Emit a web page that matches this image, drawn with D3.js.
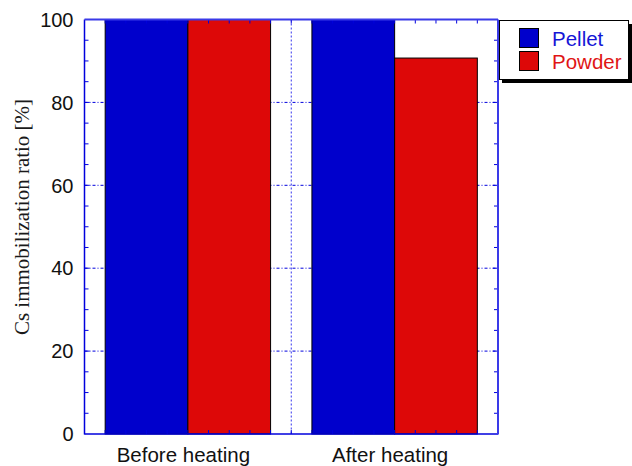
<!DOCTYPE html>
<html><head><meta charset="utf-8">
<script src="https://cdn.jsdelivr.net/npm/d3@7"></script>
<style>body{margin:0;background:#fff}</style>
</head><body>
<svg id="c" width="632" height="466"></svg>
<script>
const categories = ["Before heating", "After heating"];
const series = ["Pellet", "Powder"];
const pellet = [100, 100];
const powder = [100, 90.7];
const yTicks = [0, 20, 40, 60, 80, 100];
const colors = {Pellet: "#0000cc", Powder: "#dd0808"};
const textColors = {Pellet: "#1515d6", Powder: "#e01515"};

const svg = d3.select("#c");
const L = 84.5, R = 498, T = 19.5, B = 434;
const x = d3.scaleLinear().domain([0, 2]).range([L, R]);
const y = d3.scaleLinear().domain([0, 100]).range([B, T]);
const blue = "#0000dd";

// grid
const g = svg.append("g");
g.selectAll(".hg").data(yTicks.filter(d => d > 0 && d < 100)).join("line")
  .attr("x1", L).attr("x2", R).attr("y1", d => y(d)).attr("y2", d => y(d))
  .attr("stroke", blue).attr("stroke-width", 1).attr("stroke-dasharray", "3,2,1,2");
g.append("line").attr("x1", x(1)).attr("x2", x(1)).attr("y1", T).attr("y2", B)
  .attr("stroke", "#3333ee").attr("stroke-width", 1).attr("stroke-dasharray", "2,2");

// bars
const bw = 0.4;
const data = [];
categories.forEach((c, i) => {
  data.push({s: "Pellet", x0: i + 0.1, v: pellet[i]});
  data.push({s: "Powder", x0: i + 0.5, v: powder[i]});
});
svg.selectAll(".bar").data(data).join("rect")
  .attr("x", d => x(d.x0)).attr("width", d => x(d.x0 + bw) - x(d.x0))
  .attr("y", d => y(d.v)).attr("height", d => y(0) - y(d.v))
  .attr("fill", d => colors[d.s]).attr("stroke", "#000").attr("stroke-width", 1);

// minor x ticks
const xt = d3.range(1, 20).map(d => d / 10);
svg.selectAll(".xtb").data(xt).join("line")
  .attr("x1", d => x(d)).attr("x2", d => x(d)).attr("y1", B).attr("y2", B - 4)
  .attr("stroke", blue);
svg.selectAll(".xtt").data(xt).join("line")
  .attr("x1", d => x(d)).attr("x2", d => x(d)).attr("y1", T).attr("y2", T + 4)
  .attr("stroke", blue);

// y ticks
const yMinor = d3.range(5, 100, 5);
svg.selectAll(".ytl").data(yMinor).join("line")
  .attr("x1", L).attr("x2", d => L + (d % 20 === 0 ? 5 : 4)).attr("y1", d => y(d)).attr("y2", d => y(d))
  .attr("stroke", blue);
svg.selectAll(".ytr").data(yMinor).join("line")
  .attr("x1", R).attr("x2", d => R - (d % 20 === 0 ? 5 : 4)).attr("y1", d => y(d)).attr("y2", d => y(d))
  .attr("stroke", blue);

// frame
svg.append("line").attr("x1", L).attr("x2", L).attr("y1", T).attr("y2", B + 0.5).attr("stroke", blue).attr("stroke-width", 1.5);
svg.append("line").attr("x1", L).attr("x2", R).attr("y1", B).attr("y2", B).attr("stroke", blue).attr("stroke-width", 1.5);
svg.append("line").attr("x1", R).attr("x2", R).attr("y1", T).attr("y2", B + 0.5).attr("stroke", "#3a3ae8").attr("stroke-width", 2);
svg.append("line").attr("x1", L).attr("x2", R).attr("y1", T).attr("y2", T).attr("stroke", "#3a3ae8").attr("stroke-width", 2);

// y tick labels
svg.selectAll(".yl").data(yTicks).join("text")
  .attr("x", L - 11).attr("y", d => y(d)).attr("dy", "0.36em")
  .attr("text-anchor", "end").attr("font-family", "Liberation Sans, Arial, sans-serif")
  .attr("font-size", 20).attr("fill", "#111").text(d => d);

// x category labels
svg.selectAll(".xl").data(categories).join("text")
  .attr("x", (d, i) => x(i + 0.5) - 4.5).attr("y", 461.5)
  .attr("text-anchor", "middle").attr("font-family", "Liberation Sans, Arial, sans-serif")
  .attr("font-size", 20.5).attr("fill", "#111").text(d => d);

// y title
svg.append("text").attr("transform", "translate(28.5,217) rotate(-90)")
  .attr("text-anchor", "middle").attr("font-family", "Liberation Serif, Times New Roman, serif")
  .attr("font-size", 21).attr("fill", "#1a1a1a").text("Cs immobilization ratio [%]");

// legend
const lg = svg.append("g");
lg.append("rect").attr("x", 502).attr("y", 24).attr("width", 130).attr("height", 59).attr("fill", "#000");
lg.append("rect").attr("x", 499.5).attr("y", 20.5).attr("width", 129).attr("height", 59).attr("fill", "#fff").attr("stroke", "#000");
series.forEach((s, i) => {
  lg.append("rect").attr("x", 519.5).attr("y", 28.5 + i * 23).attr("width", 19).attr("height", 19)
    .attr("fill", colors[s]).attr("stroke", "#000");
  lg.append("text").attr("x", 552).attr("y", 46 + i * 23)
    .attr("font-family", "Liberation Sans, Arial, sans-serif").attr("font-size", 20.5)
    .attr("fill", textColors[s]).text(s);
});
</script>
</body></html>
